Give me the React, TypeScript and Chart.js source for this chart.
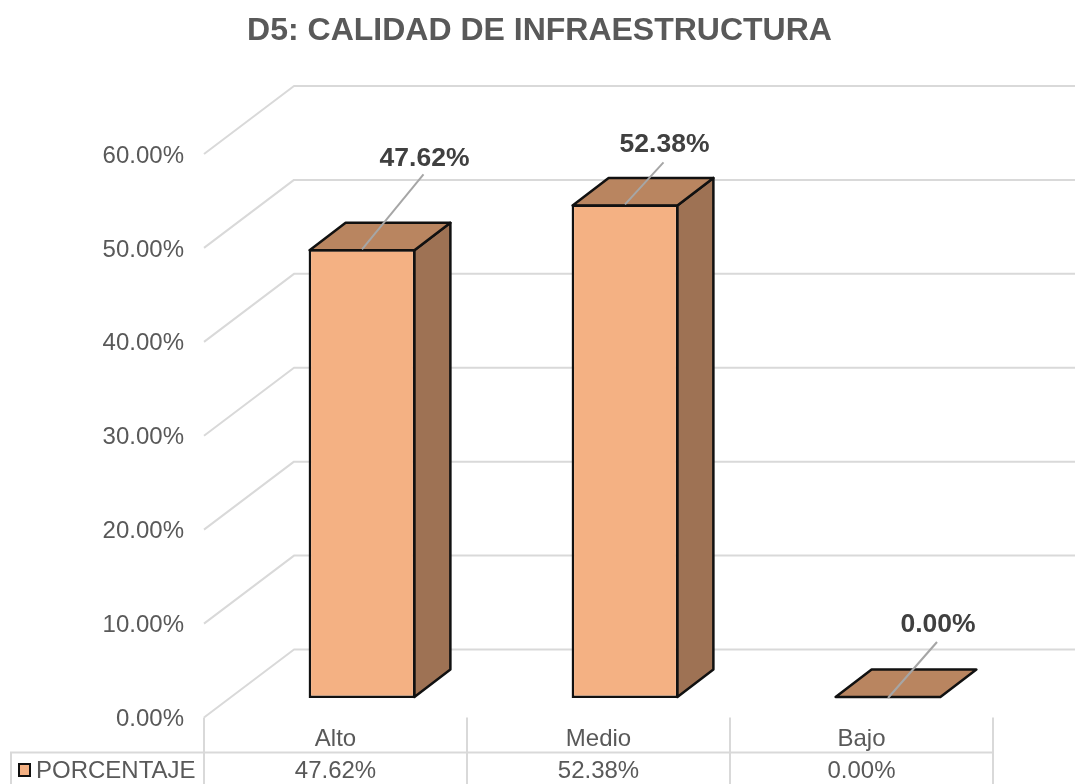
import React, { useEffect, useRef } from "react";
import { Chart, registerables } from "chart.js";

Chart.register(...registerables);

const categories = ["Alto", "Medio", "Bajo"];
const seriesName = "PORCENTAJE";
const values = [47.62, 52.38, 0];
const yMax = 60;
const yStep = 10;
const titleText = "D5: CALIDAD DE INFRAESTRUCTURA";

const FONT = "'Liberation Sans', Arial, sans-serif";
const GRID = "#d9d9d9";
const TEXT = "#595959";
const LABEL = "#404040";
const FRONT = "#F4B183";
const TOP = "#B98560";
const SIDE = "#9E7254";
const EDGE = "#111111";
const LEADER = "#a6a6a6";

// Layout of the pseudo-3D drawing
const WALL_DX = 90;
const WALL_DY = 68;
const BAR_SHIFT_X = 26.5;
const BAR_SHIFT_Y = -19.5;
const BAR_DX = 36;
const BAR_DY = 27.5;
const LABEL_OFFSETS = [
  { x: 62.5, y: -91, ex: 61.5, ey: -75 },
  { x: 39.5, y: -60, ex: 38.5, ey: -42 },
  { x: 50, y: -73, ex: 49, ey: -56 },
];

const fmt = (v: number) => v.toFixed(2) + "%";

const depthPlugin = {
  id: "depth",
  beforeDatasetsDraw(chart: any) {
    const { ctx, scales, width } = chart;
    const y = scales.y;
    const x = scales.x;
    const left = x.left;

    ctx.save();
    ctx.strokeStyle = GRID;
    ctx.lineWidth = 2;
    ctx.lineJoin = "round";
    for (let v = 0; v <= yMax; v += yStep) {
      const p = y.getPixelForValue(v);
      ctx.beginPath();
      ctx.moveTo(left, p);
      ctx.lineTo(left + WALL_DX, p - WALL_DY);
      ctx.lineTo(width, p - WALL_DY);
      ctx.stroke();
    }
    ctx.restore();

    ctx.save();
    ctx.translate(BAR_SHIFT_X, BAR_SHIFT_Y);
    const meta = chart.getDatasetMeta(0);
    ctx.lineWidth = 2.5;
    ctx.strokeStyle = EDGE;
    ctx.lineJoin = "round";
    meta.data.forEach((el: any) => {
      const L = el.x - el.width / 2 + 1;
      const R = el.x + el.width / 2 - 1;
      const B = el.base - 1;
      const T = Math.min(el.y + 1, B);
      if (B - T > 1) {
        ctx.beginPath();
        ctx.moveTo(R, T);
        ctx.lineTo(R + BAR_DX, T - BAR_DY);
        ctx.lineTo(R + BAR_DX, B - BAR_DY);
        ctx.lineTo(R, B);
        ctx.closePath();
        ctx.fillStyle = SIDE;
        ctx.fill();
        ctx.stroke();
      }
      ctx.beginPath();
      ctx.moveTo(L, T);
      ctx.lineTo(R, T);
      ctx.lineTo(R + BAR_DX, T - BAR_DY);
      ctx.lineTo(L + BAR_DX, T - BAR_DY);
      ctx.closePath();
      ctx.fillStyle = TOP;
      ctx.fill();
      ctx.stroke();
    });
  },
  afterDatasetsDraw(chart: any) {
    const { ctx, scales, height } = chart;
    ctx.restore();

    // data labels with leader lines
    const meta = chart.getDatasetMeta(0);
    meta.data.forEach((el: any, i: number) => {
      const sx = el.x + BAR_SHIFT_X;
      const sy = el.y + BAR_SHIFT_Y;
      const o = LABEL_OFFSETS[i];
      ctx.save();
      ctx.strokeStyle = LEADER;
      ctx.lineWidth = 2;
      ctx.beginPath();
      ctx.moveTo(sx, sy);
      ctx.lineTo(sx + o.ex, sy + o.ey);
      ctx.stroke();
      ctx.fillStyle = LABEL;
      ctx.font = `bold 26.5px ${FONT}`;
      ctx.textAlign = "center";
      ctx.textBaseline = "middle";
      ctx.fillText(fmt(values[i]), sx + o.x, sy + o.y);
      ctx.restore();
    });

    // data table
    const x = scales.x;
    const tableTop = 752.5;
    const step = x.width / categories.length;
    ctx.save();
    ctx.strokeStyle = GRID;
    ctx.lineWidth = 2;
    for (let i = 0; i <= categories.length; i++) {
      const p = Math.round(x.left + i * step);
      ctx.beginPath();
      ctx.moveTo(p, x.top);
      ctx.lineTo(p, height);
      ctx.stroke();
    }
    ctx.beginPath();
    ctx.moveTo(11, height);
    ctx.lineTo(11, tableTop);
    ctx.lineTo(x.right, tableTop);
    ctx.stroke();

    ctx.fillStyle = FRONT;
    ctx.strokeStyle = EDGE;
    ctx.lineWidth = 2;
    ctx.fillRect(19, 764, 11, 12);
    ctx.strokeRect(19, 764, 11, 12);

    ctx.fillStyle = TEXT;
    ctx.font = `24px ${FONT}`;
    ctx.textBaseline = "middle";
    ctx.textAlign = "left";
    ctx.fillText(seriesName, 36, 771);
    ctx.textAlign = "center";
    values.forEach((v, i) => {
      ctx.fillText(fmt(v), x.getPixelForValue(i), 771);
    });
    ctx.restore();
  },
};

export default function App() {
  const ref = useRef<HTMLCanvasElement>(null);
  useEffect(() => {
    const chart = new Chart(ref.current as HTMLCanvasElement, {
      type: "bar",
      data: {
        labels: categories,
        datasets: [
          {
            label: seriesName,
            data: values,
            yAxisID: "yBar",
            backgroundColor: FRONT,
            borderColor: EDGE,
            borderWidth: 2.5,
            borderSkipped: false,
            barPercentage: 0.406,
            categoryPercentage: 1,
            clip: false,
          } as any,
        ],
      },
      options: {
        responsive: false,
        animation: false,
        layout: { padding: { left: 4 } },
        plugins: {
          legend: { display: false },
          tooltip: { enabled: false },
          title: {
            display: true,
            text: titleText,
            color: TEXT,
            font: { family: FONT, size: 32, weight: "bold", lineHeight: 1.2 },
            padding: { top: 12, bottom: 103.6 },
          },
        },
        scales: {
          x: {
            grid: { display: false },
            border: { display: false },
            ticks: {
              color: TEXT,
              font: { family: FONT, size: 24 },
              padding: -1,
              maxRotation: 0,
            },
            afterFit: (s: any) => {
              s.height = 66.5;
            },
          },
          y: {
            min: 0,
            max: yMax,
            grid: { display: false },
            border: { display: false },
            ticks: {
              stepSize: yStep,
              color: TEXT,
              font: { family: FONT, size: 24 },
              padding: 12,
              labelOffset: 2,
              callback: (v: any) => fmt(Number(v)),
            },
            afterFit: (s: any) => {
              s.width = 200;
            },
          },
          yBar: {
            position: "right",
            min: 0,
            max: 59.8,
            grid: { display: false },
            border: { display: false },
            ticks: { display: false },
            afterFit: (s: any) => {
              s.width = 82;
            },
          },
        },
      } as any,
      plugins: [depthPlugin],
    });
    return () => chart.destroy();
  }, []);
  return (
    <div style={{ position: "fixed", left: 0, top: 0, width: 1075, height: 784, background: "#fff" }}>
      <canvas ref={ref} width={1075} height={784} style={{ display: "block" }} />
    </div>
  );
}
